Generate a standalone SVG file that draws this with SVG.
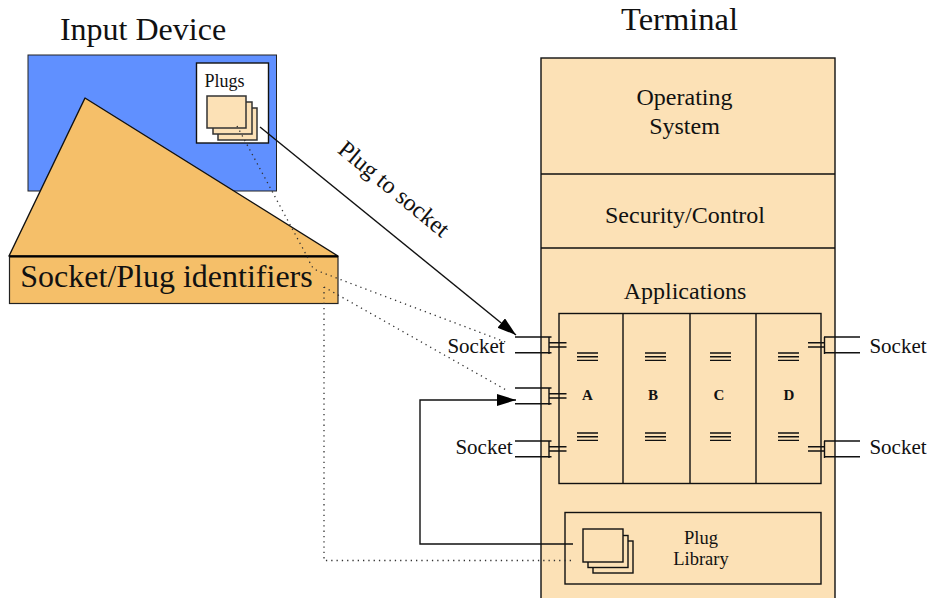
<svg xmlns="http://www.w3.org/2000/svg" xmlns:xlink="http://www.w3.org/1999/xlink" width="931" height="598" viewBox="0 0 931 598">
<style>
text{font-family:"Liberation Serif","Times New Roman",serif;fill:#111;text-anchor:middle}
.s{fill:none;stroke:#111;stroke-width:1.4}
.t{fill:#fce1b6;stroke:#111;stroke-width:1.4}
.d{fill:none;stroke:#333;stroke-width:1.3;stroke-dasharray:1.3 4}
.p{fill:#fce1b6;stroke:#333;stroke-width:1.5}
.l{font-size:24px}
.k{font-size:21px}
</style>
<defs>
<marker id="a" markerUnits="userSpaceOnUse" markerWidth="20" markerHeight="14" refX="19" refY="6" orient="auto"><path d="M0 0L19 6L0 12Z" fill="#000"/></marker>
<g id="sock"><path class="s" d="M0 0H36.500M0 15.700H36.500M34 0V17M34 5.700H51.500M34 10H51.500"/></g>
<g id="sockr"><path class="s" d="M52 0H16M52 15.700H16M16.500 0V17M16.500 5.700H0M16.500 10H0"/></g>
<g id="bars"><path class="s" d="M0 0H21M0 3.700H21M0 7.400H21"/></g>
</defs>
<g id="terminal">
<rect class="t" x="541" y="58" width="294" height="560"/>
<path class="s" d="M541 174H835M541 248H835"/>
<text class="l" x="684.500" y="105">Operating</text>
<text class="l" x="684.500" y="134">System</text>
<text class="l" x="685" y="223">Security/Control</text>
<text class="l" x="685" y="299">Applications</text>
<text x="679.500" y="30" font-size="32.500">Terminal</text>
</g>
<g id="apps">
<rect class="s" x="559" y="313.500" width="262" height="170"/>
<path class="s" d="M623 313.500V483.500M690 313.500V483.500M756 313.500V483.500"/>
<g font-size="15" font-weight="bold">
<text x="587.500" y="400">A</text><text x="653" y="400">B</text><text x="719" y="400">C</text><text x="789" y="400">D</text>
</g>
<use xlink:href="#bars" href="#bars" x="577" y="353"/>
<use xlink:href="#bars" href="#bars" x="645" y="353"/>
<use xlink:href="#bars" href="#bars" x="710" y="353"/>
<use xlink:href="#bars" href="#bars" x="778" y="353"/>
<use xlink:href="#bars" href="#bars" x="577" y="433"/>
<use xlink:href="#bars" href="#bars" x="645" y="433"/>
<use xlink:href="#bars" href="#bars" x="710" y="433"/>
<use xlink:href="#bars" href="#bars" x="778" y="433"/>
</g>
<g id="sockets">
<use xlink:href="#sock" href="#sock" x="515" y="337"/>
<use xlink:href="#sock" href="#sock" x="515" y="388"/>
<use xlink:href="#sock" href="#sock" x="515" y="441"/>
<use xlink:href="#sockr" href="#sockr" x="808" y="337"/>
<use xlink:href="#sockr" href="#sockr" x="808" y="441"/>
<text class="k" x="476" y="353">Socket</text><text class="k" x="484" y="454">Socket</text><text class="k" x="898" y="353">Socket</text><text class="k" x="898" y="454">Socket</text>
</g>
<g id="library">
<rect class="s" x="565" y="512.500" width="256" height="71.500"/>
<rect class="t" x="593" y="541" width="40" height="32"/>
<rect class="t" x="588" y="535.500" width="40" height="32"/>
<rect class="t" x="583" y="529" width="40" height="33"/>
<text x="701" y="544" font-size="18.500">Plug</text>
<text x="701" y="565" font-size="18.500">Library</text>
</g>
<g id="input-device">
<rect x="28" y="55" width="248.500" height="136" fill="#6090ff" stroke="#222" stroke-width="1"/>
<rect x="196.500" y="63" width="72" height="80" fill="#fff" stroke="#111" stroke-width="1.400"/>
<text x="224.500" y="87" font-size="18">Plugs</text>
<rect class="p" x="218" y="108" width="39" height="32"/>
<rect class="p" x="213" y="102" width="39" height="32"/>
<rect class="p" x="207" y="96" width="39" height="32"/>
<text x="143" y="40" font-size="32">Input Device</text>
</g>
<g id="identifiers">
<path d="M85 98L9 256H338Z" fill="#f5bf69" stroke="#111" stroke-width="1.400" stroke-linejoin="round"/>
<rect x="9.500" y="256.500" width="328.500" height="47" fill="#f5bf69" stroke="#222" stroke-width="1.200"/>
<path d="M9.500 256.500H338" stroke="#000" stroke-width="2"/>
<text x="166.500" y="287" font-size="32">Socket/Plug identifiers</text>
</g>
<g id="connectors">
<path class="s" d="M260 127L516 335" marker-end="url(#a)"/>
<path class="s" d="M573 544H420V400H516" marker-end="url(#a)"/>
<path class="d" d="M237 126L309 260Q311 268 318 271L508 343"/>
<path class="d" d="M324 287L508 391"/>
<path class="d" d="M571 560.500H324V287"/>
</g>
<text x="389" y="195" font-size="24" transform="rotate(39.500 389 195)">Plug to socket</text>
</svg>
